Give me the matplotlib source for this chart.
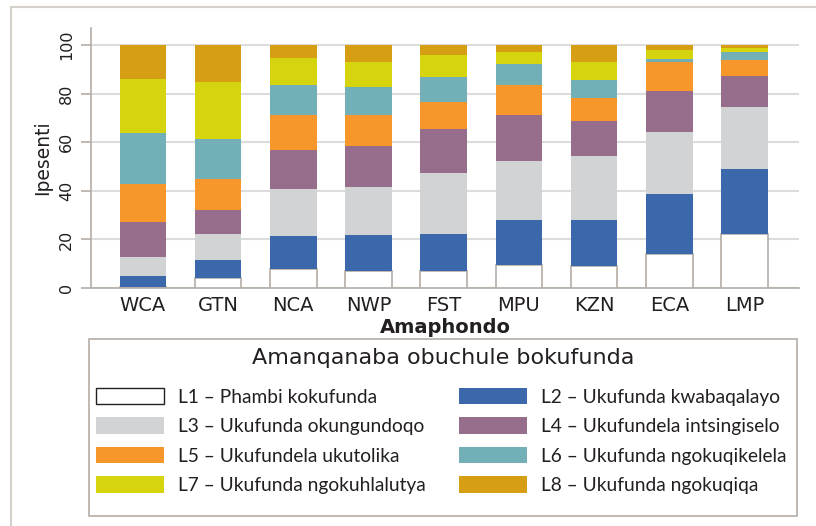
import matplotlib
matplotlib.use("Agg")
import matplotlib.pyplot as plt
from matplotlib.patches import Rectangle, Patch
import numpy as np

provinces = ["WCA", "GTN", "NCA", "NWP", "FST", "MPU", "KZN", "ECA", "LMP"]
level_labels = [
    "L1 – Phambi kokufunda",
    "L2 – Ukufunda kwabaqalayo",
    "L3 – Ukufunda okungundoqo",
    "L4 – Ukufundela intsingiselo",
    "L5 – Ukufundela ukutolika",
    "L6 – Ukufunda ngokuqikelela",
    "L7 – Ukufunda ngokuhlalutya",
    "L8 – Ukufunda ngokuqiqa",
]
L1 = [0.5, 4.1, 7.8, 7.0, 7.2, 9.5, 8.9, 14.0, 22.3]
L2 = [4.5, 7.6, 13.8, 15.0, 15.2, 18.3, 18.9, 24.5, 26.5]
L3 = [7.9, 10.7, 19.0, 19.4, 24.8, 24.3, 26.4, 25.6, 25.6]
L4 = [14.1, 9.5, 16.1, 16.9, 18.1, 19.0, 14.4, 16.9, 12.8]
L5 = [15.8, 12.8, 14.4, 12.8, 11.3, 12.4, 9.7, 12.1, 6.6]
L6 = [20.9, 16.5, 12.4, 11.6, 10.2, 8.7, 7.3, 1.1, 3.3]
L7 = [22.3, 23.5, 11.1, 10.3, 9.1, 4.9, 7.4, 3.7, 1.7]
L8 = [14.0, 15.3, 5.4, 7.0, 4.1, 2.9, 7.0, 2.1, 1.2]
yticks = [0, 20, 40, 60, 80, 100]

series = [L1, L2, L3, L4, L5, L6, L7, L8]
colors = ["#ffffff", "#3a68aa", "#d2d3d5", "#966d8b", "#f7962a", "#72afb6", "#d6d30f", "#d69e12"]
edge_c = "#b5aca4"
text_c = "#231f20"
wide = ["DejaVu Sans"]
narrow = ["Lato", "DejaVu Sans"]

plt.rcParams["font.family"] = wide

W, H = 816, 526
fig = plt.figure(figsize=(W / 100, H / 100), dpi=100)
ax = fig.add_axes([91 / W, 1 - 288 / H, (799 - 91) / W, (288 - 28) / H])

x = np.arange(len(provinces))
bottom = np.zeros(len(provinces))
handles = []
for i, (vals, c, lab) in enumerate(zip(series, colors, level_labels)):
    vals = np.array(vals)
    if i == 0:
        ax.bar(x, vals, 0.62, bottom=bottom, color=c, edgecolor=edge_c, linewidth=1.2, zorder=3)
        handles.append(Patch(facecolor=c, edgecolor=text_c, linewidth=1.0, label=lab))
    else:
        ax.bar(x, vals, 0.62, bottom=bottom, color=c, linewidth=0, zorder=3)
        handles.append(Patch(facecolor=c, edgecolor="none", label=lab))
    bottom += vals

ax.set_xlim(-0.69, 8.725)
ax.set_ylim(0, 107)
ax.set_yticks(yticks)
ax.set_yticklabels([str(t) for t in yticks], rotation=90, va="center", fontsize=11.5, color=text_c)
ax.set_xticks(x)
ax.set_xticklabels(provinces, fontsize=14, color=text_c)
ax.tick_params(axis="x", length=0, pad=6)
ax.tick_params(axis="y", length=7, width=1.2, color=edge_c, pad=5)
ax.grid(axis="y", color="#dcdcdc", linewidth=1.5, zorder=0)
ax.set_axisbelow(True)
for s in ["top", "right"]:
    ax.spines[s].set_visible(False)
for s in ["left", "bottom"]:
    ax.spines[s].set_color(edge_c)
    ax.spines[s].set_linewidth(1.2)
ax.set_ylabel("Ipesenti", fontsize=13.5, color=text_c, labelpad=5)
ax.set_xlabel("Amaphondo", fontsize=14, fontweight="bold", color=text_c, labelpad=2)

# legend frame and title
fig.add_artist(Rectangle((88.7 / W, 1 - 516 / H), (797.3 - 88.7) / W, (516 - 339.3) / H,
                         transform=fig.transFigure, fill=False, edgecolor=edge_c, linewidth=1.2))
fig.text(443 / W, 1 - 358 / H, "Amanqanaba obuchule bokufunda", fontsize=16,
         ha="center", va="center", color=text_c)

order = [0, 2, 4, 6, 1, 3, 5, 7]
leg = fig.legend(
    [handles[i] for i in order],
    [level_labels[i] for i in order],
    ncol=2,
    loc="upper left",
    bbox_to_anchor=(96 / W, 1 - 388 / H),
    prop={"family": narrow, "size": 13.8},
    handlelength=3.55,
    handleheight=0.94,
    handletextpad=0.75,
    labelspacing=0.61,
    columnspacing=1.7,
    borderpad=0,
    borderaxespad=0,
    frameon=False,
)
for t in leg.get_texts():
    t.set_color(text_c)

fig.add_artist(Rectangle((10.5 / W, -0.1), 2, 1 - 7 / H + 0.1, transform=fig.transFigure,
                         fill=False, edgecolor="#d6d0ca", linewidth=1.5))

fig.savefig("out.png", dpi=100)
